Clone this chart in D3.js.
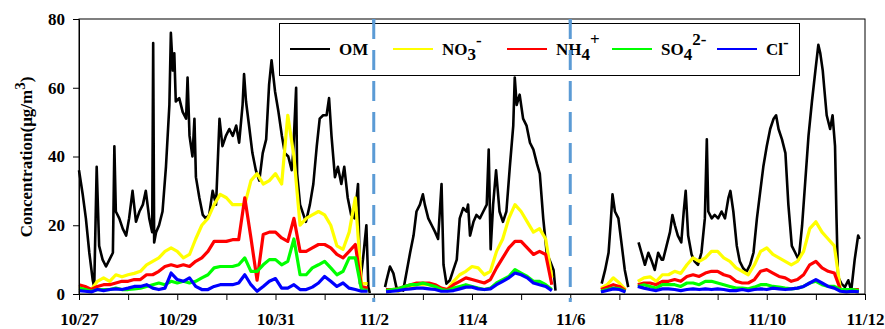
<!DOCTYPE html>
<html>
<head>
<meta charset="utf-8">
<script src="https://cdn.jsdelivr.net/npm/d3@7/dist/d3.min.js"></script>
<style>
  body { margin: 0; background: #fff; }
  svg text { font-family: "Liberation Serif", "Times New Roman", serif; font-weight: bold; }
</style>
</head>
<body>
<div id="wrapper"></div>
<script>
// days since 10/27 00:00
var tickLabels = ["10/27", "10/29", "10/31", "11/2", "11/4", "11/6", "11/8", "11/10", "11/12"];
var breakDays = [6, 10]; // dashed separators at 11/2 and 11/6

// OM, irregular sampling (null = no data)
var omDays = [0.00,0.075,0.14,0.21,0.28,0.31,0.36,0.41,0.48,0.55,0.62,0.69,0.72,0.75,0.82,0.89,0.96,
  1.02,1.09,1.16,1.23,1.30,1.36,1.43,1.49,1.51,1.53,1.57,1.63,1.70,1.77,1.84,1.87,1.91,1.94,1.97,
  2.04,2.11,2.18,2.21,2.25,2.31,2.35,2.38,2.45,2.52,2.58,2.65,2.72,2.79,2.86,2.92,2.99,
  3.06,3.13,3.20,3.26,3.33,3.36,3.40,3.47,3.53,3.60,3.67,3.74,3.81,3.87,3.92,3.99,
  4.06,4.13,4.19,4.26,4.33,4.36,4.42,4.44,4.50,4.57,4.62,4.70,4.77,4.84,4.90,4.97,
  5.04,5.09,5.14,5.21,5.27,5.34,5.40,5.47,5.54,5.61,5.68,5.72,5.78,5.85,5.89,5.92,
  6.00,6.23,6.26,6.33,6.40,6.46,6.60,6.74,6.81,6.87,6.94,
  7.00,7.04,7.11,7.18,7.25,7.31,7.38,7.42,7.48,7.55,7.62,7.69,7.75,7.82,7.89,7.92,7.96,
  8.03,8.09,8.16,8.23,8.30,8.34,8.38,8.43,8.49,8.56,8.63,8.70,8.77,8.84,8.87,8.91,8.97,
  9.04,9.11,9.18,9.25,9.32,9.38,9.45,9.52,9.59,9.66,9.70,
  10.00,10.64,10.71,10.78,10.82,10.86,10.91,10.98,11.05,11.11,11.18,
  11.25,11.39,11.45,11.52,11.59,11.66,11.72,11.79,11.86,11.89,11.96,
  12.03,12.08,12.13,12.19,12.26,12.31,12.35,12.40,12.47,12.53,12.60,12.67,12.74,12.78,12.81,12.88,12.94,
  13.01,13.08,13.15,13.22,13.26,13.32,13.39,13.45,13.52,13.59,13.66,13.73,13.80,13.86,13.93,
  14.00,14.07,14.14,14.19,14.24,14.31,14.38,14.44,14.51,14.58,14.65,14.72,14.78,14.85,14.92,14.99,
  15.05,15.09,15.14,15.17,15.22,15.29,15.34,15.39,15.42,15.45,15.52,15.59,15.66,15.72,15.79,15.86,15.89];
var omVals = [36,29,22,12,4,2,37,14,10,8,10,12,43,24,22,19,17,
  22,30,21,24,26,30,22,18,73,15,18,20,24,37,55,76,65,70,56,
  57,53,51,63,46,40,51,34,28,23,22,23,30,26,51,43,46,
  48,46,49,44,55,64,56,48,41,36,33,41,45,61,68,59,
  53,46,41,40,36,41,60,35,26,23,21,26,32,43,51,52,
  52,57,46,34,37,32,37,28,23,22,32,3,10,20,2,0.3,
  null,2,4,8,6,2,1,12,17,24,26,
  29,26,22,20,18,16,32,8.5,3,4,7,10,22,25,24,26,17,
  21,23,22,24,26,42,13,26,36,24,21,24,37,49,63,55,58,
  51,49,44,42,38,35,22,12,9.5,7,1,
  null,3,7,12,20,29,24,22,14,7,2,
  null,15,12,8.5,12,9.5,7,12,10,10,14,
  18,23,20,17,15,24,30,17,11.5,9.5,8.5,12,22,45,24,22,23,
  22,24,22,28,30,24,14,9.5,7.5,6.5,8.5,12,22,29,37,
  43,48,51,52,48,45,41,26,14,12,10,20,32,46,56,65,
  72.5,70,65,60,52,48,52,43,22,5,3,2,4,1,10,17,16];

// ions, one value every 3 hours (8 per day) starting 10/27 00:00
var ionStep = 0.125;
var no3 = [
  2.2,1.7,1.3,3.7,4.7,3.7,5.6,5.0,
  5.6,6.0,6.6,8.5,9.5,10.5,12.4,13.4,
  12.4,10.5,11.5,16,20,22,26,29,
  28,26,26,26,33,35,32,33,
  35,32,52,40,20,22,23,24,
  23,20,14,13,18,28,3,3,
  null,null,1.3,1.3,0.8,1.5,2.2,2.7,
  2.7,2.7,2.2,1.5,1.3,3.7,5.6,6.6,
  8,7.6,5.6,6.6,12.4,16,22,26,
  24,21,18,19,16,4.7,null,null,
  null,null,null,null,null,1.7,2.7,4.7,
  3.2,1.3,null,3.7,4.7,5,3.7,5.6,
  5.6,6.6,6,8.5,10.5,9.5,10.5,12.4,
  12.4,10.5,9.5,7.6,6.6,5.6,8.5,12.4,
  13.4,11.5,10.5,9.5,8.5,9.5,12.4,19,
  21,18,16,14,1.3,1,0.8,0.6];
var nh4 = [
  2.7,2.2,1.3,2.2,2.7,2.7,3.2,3.7,
  3.7,4.2,4.2,5.6,5.6,6.6,8,8.5,
  8,8.5,8,9.5,10.5,12.4,15.3,15.3,
  15.3,15.8,15.8,28,16.3,4,17.3,18,
  18,16.3,15.3,22,12.4,12.4,13.4,14.4,
  14.4,13.4,11.5,10.5,12.4,14.4,2.2,1.7,
  null,null,1.3,1.3,1.5,2.2,2.7,3.2,
  3.2,3.2,2.7,1.7,1.3,2.7,3.7,4.7,
  4.2,3.7,3.2,4.2,7.6,10.5,13.4,15.3,
  15.3,13.4,11.5,12.4,11.5,2.7,null,null,
  null,null,null,null,null,1.3,2,2.7,
  2.2,1,null,2.7,3.2,3.2,2.7,3.7,
  3.7,4.2,3.7,5.1,5.6,5.1,6.1,6.6,
  6.6,5.6,5.1,3.7,3.2,3.2,4.2,6.6,
  7.1,6.1,5.1,4.7,3.7,4.2,5.6,8.5,
  9.5,7.6,6.6,6.1,1.3,1,1.3,1.3];
var so4 = [
  1.7,1.3,0.8,1.3,1.3,1.3,1.7,1.3,
  1.3,1.5,1.7,2.2,2.7,3.2,2.7,3.7,
  3.2,3.7,3.2,3.7,4.7,5.6,7.6,8,
  8,8,8.5,10.5,6.6,6.6,8.5,10,
  10,8.5,9.5,16,5.6,5.6,7.6,8.5,
  9.5,7.6,5.6,6.6,10.5,10.5,1.3,1,
  null,null,1,1.3,1.5,2.2,2.7,2.7,
  3.2,2.7,2.2,1.3,1,1.7,2.2,2.7,
  2.2,1.7,1.3,1.7,3.2,4.2,5.1,7.1,
  6.1,5.1,3.7,3.7,2.7,1.3,null,null,
  null,null,null,null,null,0.8,1.3,1.7,
  1.5,0.8,null,2.2,2.7,2.2,1.7,2.7,
  2.7,2.7,2.2,3.2,3.2,2.7,3.7,3.7,
  3.2,2.7,2.2,1.7,1.7,1.5,2,2.7,
  2.7,2.2,2,1.7,1.5,1.7,2.2,3.2,
  3.7,2.7,2.2,2.2,1.3,1.3,1.3,1];
var cl = [
  1,0.8,0.6,1.3,1,1.3,1.5,1.3,
  1.7,2.2,2.2,2.7,1.7,1.3,1.7,6.1,
  4.2,3.7,4.7,2.2,1.3,1.3,2.2,2.7,
  2.7,2.7,3.2,5.6,2.7,0.8,2.2,3.7,
  4.5,1.7,1.7,2.7,1.3,1.3,2,3.2,
  5.1,3.7,2.2,3.2,1.7,1.3,0.8,0.8,
  null,null,0.6,0.8,1,1.3,1.5,1.7,
  1.7,1.5,1.3,0.8,0.8,1,1.5,2,
  2,1.5,1.3,1.5,2.7,3.7,4.7,6.1,
  5.6,4.7,3.2,2.7,2.2,1,null,null,
  null,null,null,null,null,0.6,1,1.5,
  1.3,0.6,null,2.2,1.7,1.3,1,1.5,
  1.5,1.3,1,1.3,1.5,1.3,1.5,1.3,
  1.5,1.3,1,1,1.3,1,1.3,1.5,
  1.3,1.7,1.5,1.3,1.5,1.7,2.2,3.2,
  4.2,3.2,2.2,1.7,0.8,0.6,0.8,0.6];

var seriesNames = ["OM", "NO3", "NH4", "SO4", "Cl"];
var seriesColors = ["#000000", "#ffff00", "#ff0000", "#00ff00", "#0000ff"];

var width = 885, height = 329;
var margin = { top: 19, right: 20, bottom: 35, left: 79 };

var svg = d3.select("#wrapper").append("svg")
  .attr("width", width)
  .attr("height", height);

var x = d3.scaleLinear().domain([0, 16]).range([margin.left, width - margin.right]);
var y = d3.scaleLinear().domain([0, 80]).range([height - margin.bottom, margin.top]);

// build point lists
var omData = omDays.map(function (d, i) { return { t: d, v: omVals[i] }; });
function ionData(arr) {
  return arr.map(function (v, i) { return { t: i * ionStep, v: v }; });
}
var allSeries = [omData, ionData(no3), ionData(nh4), ionData(so4), ionData(cl)];

var line = d3.line()
  .defined(function (d) { return d.v !== null; })
  .x(function (d) { return x(d.t); })
  .y(function (d) { return y(d.v); });

var plot = svg.append("g");
allSeries.forEach(function (data, i) {
  plot.append("path")
    .attr("d", line(data))
    .attr("fill", "none")
    .attr("stroke", seriesColors[i])
    .attr("stroke-width", i === 0 ? 2.6 : 3.2)
    .attr("stroke-linejoin", "round");
});

// frame (top + right)
svg.append("rect")
  .attr("x", x(0)).attr("y", y(80))
  .attr("width", x(16) - x(0)).attr("height", y(0) - y(80))
  .attr("fill", "none").attr("stroke", "#000").attr("stroke-width", 1);

// x axis, tick every day, label every 2nd
var xAxis = d3.axisBottom(x)
  .tickValues(d3.range(0, 17))
  .tickSize(6)
  .tickPadding(13)
  .tickSizeOuter(0)
  .tickFormat(function (d) { return d % 2 === 0 ? tickLabels[d / 2] : ""; });
var gx = svg.append("g")
  .attr("transform", "translate(0," + y(0) + ")")
  .call(xAxis);

var yAxis = d3.axisLeft(y)
  .tickValues([0, 20, 40, 60, 80])
  .tickSize(6)
  .tickPadding(8)
  .tickSizeOuter(0);
var gy = svg.append("g")
  .attr("transform", "translate(" + x(0) + ",0)")
  .call(yAxis);

[gx, gy].forEach(function (g) {
  g.attr("font-family", null);
  g.selectAll("path, line").attr("stroke", "#000").attr("stroke-width", 1);
  g.selectAll("text").attr("fill", "#000")
    .style("font-size", "17px")
    .style("font-family", "'Liberation Serif', 'Times New Roman', serif")
    .style("font-weight", "bold");
});

// y title
var yt = svg.append("text")
  .attr("transform", "translate(32," + 157 + ") rotate(-90)")
  .attr("text-anchor", "middle")
  .style("font-size", "17px");
yt.append("tspan").text("Concentration(\u03bcg/m");
yt.append("tspan").attr("dy", -7).style("font-size", "15px").text("3");
yt.append("tspan").attr("dy", 7).text(")");

// dashed separators
breakDays.forEach(function (d) {
  svg.append("line")
    .attr("x1", x(d)).attr("x2", x(d))
    .attr("y1", y(80)).attr("y2", y(0) + 8)
    .attr("stroke", "#5b9bd5")
    .attr("stroke-width", 3)
    .attr("stroke-dasharray", "20,11");
});

// legend
var legend = svg.append("g");
legend.append("rect")
  .attr("x", 279.5).attr("y", 23.5)
  .attr("width", 520).attr("height", 52)
  .attr("fill", "#fff").attr("stroke", "#000").attr("stroke-width", 1);

var legendX = [290, 393, 507, 612, 717];
var legendParts = [
  [["OM", 0]],
  [["NO", 0], ["3", 5], ["-", -9]],
  [["NH", 0], ["4", 5], ["+", -10]],
  [["SO", 0], ["4", 5], ["2-", -10]],
  [["Cl", 0], ["-", -7]]
];
seriesNames.forEach(function (name, i) {
  var lx = legendX[i];
  legend.append("line")
    .attr("x1", lx).attr("x2", lx + 40)
    .attr("y1", 49).attr("y2", 49)
    .attr("stroke", seriesColors[i]).attr("stroke-width", 2);
  var t = legend.append("text")
    .attr("x", lx + 49).attr("y", 55)
    .style("font-size", "17px");
  var prev = 0;
  legendParts[i].forEach(function (p) {
    t.append("tspan").attr("dy", p[1] - prev).text(p[0]);
    prev = p[1];
  });
});

// redraw dashed lines over the legend box
breakDays.forEach(function (d) {
  svg.append("line")
    .attr("x1", x(d)).attr("x2", x(d))
    .attr("y1", y(80)).attr("y2", 76)
    .attr("stroke", "#5b9bd5")
    .attr("stroke-width", 3)
    .attr("stroke-dasharray", "20,11");
});
</script>
</body>
</html>
